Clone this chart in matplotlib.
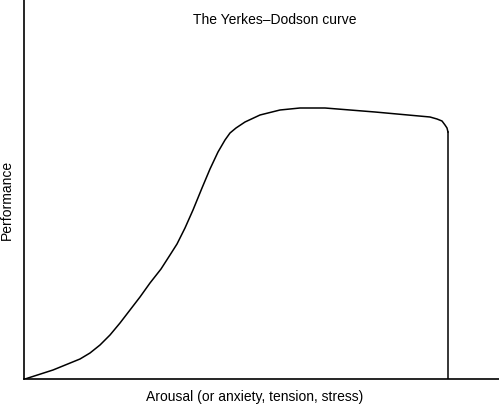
import numpy as np
import matplotlib.pyplot as plt

plt.rcParams['font.family'] = ['Liberation Sans', 'DejaVu Sans']

# curve (arbitrary units, origin at the axes corner)
arousal = [1, 29, 56, 66, 76, 86, 96, 106, 116, 126, 137, 146, 153, 161,
           169, 178, 186, 194, 201, 206, 212, 221, 236, 256, 276, 301, 351,
           406, 413, 418, 421, 423, 424]
performance = [0, 9, 20, 26, 34, 44, 56, 69, 82, 96, 110, 124, 135, 151,
               169, 191, 210, 227, 239, 246, 251, 257, 264, 269, 271, 271,
               267, 262, 260, 258, 254, 251, 247]
drop_x = [424, 424]
drop_y = [247, 0]

fig = plt.figure(figsize=(4.99, 4.07), dpi=100)
ax = fig.add_axes([24 / 499, 28 / 407, 475 / 499, 379 / 407])

ax.plot(arousal, performance, color='black', lw=1.1, solid_joinstyle='round')
ax.plot(drop_x, drop_y, color='black', lw=1.1)

ax.set_xlim(0, 475)
ax.set_ylim(0, 379)
ax.spines['top'].set_visible(False)
ax.spines['right'].set_visible(False)
ax.spines['left'].set_linewidth(1.2)
ax.spines['bottom'].set_linewidth(1.2)
ax.set_xticks([])
ax.set_yticks([])

ax.text(251, 359, 'The Yerkes\u2013Dodson curve', ha='center', va='center', fontsize=10)
fig.text(255 / 499, 1 - 397 / 407, 'Arousal (or anxiety, tension, stress)',
         ha='center', va='center', fontsize=10)
fig.text(7 / 499, 1 - 200 / 407, 'Performance', rotation=90,
         ha='center', va='center', fontsize=10)

fig.savefig('out.png', dpi=100)
